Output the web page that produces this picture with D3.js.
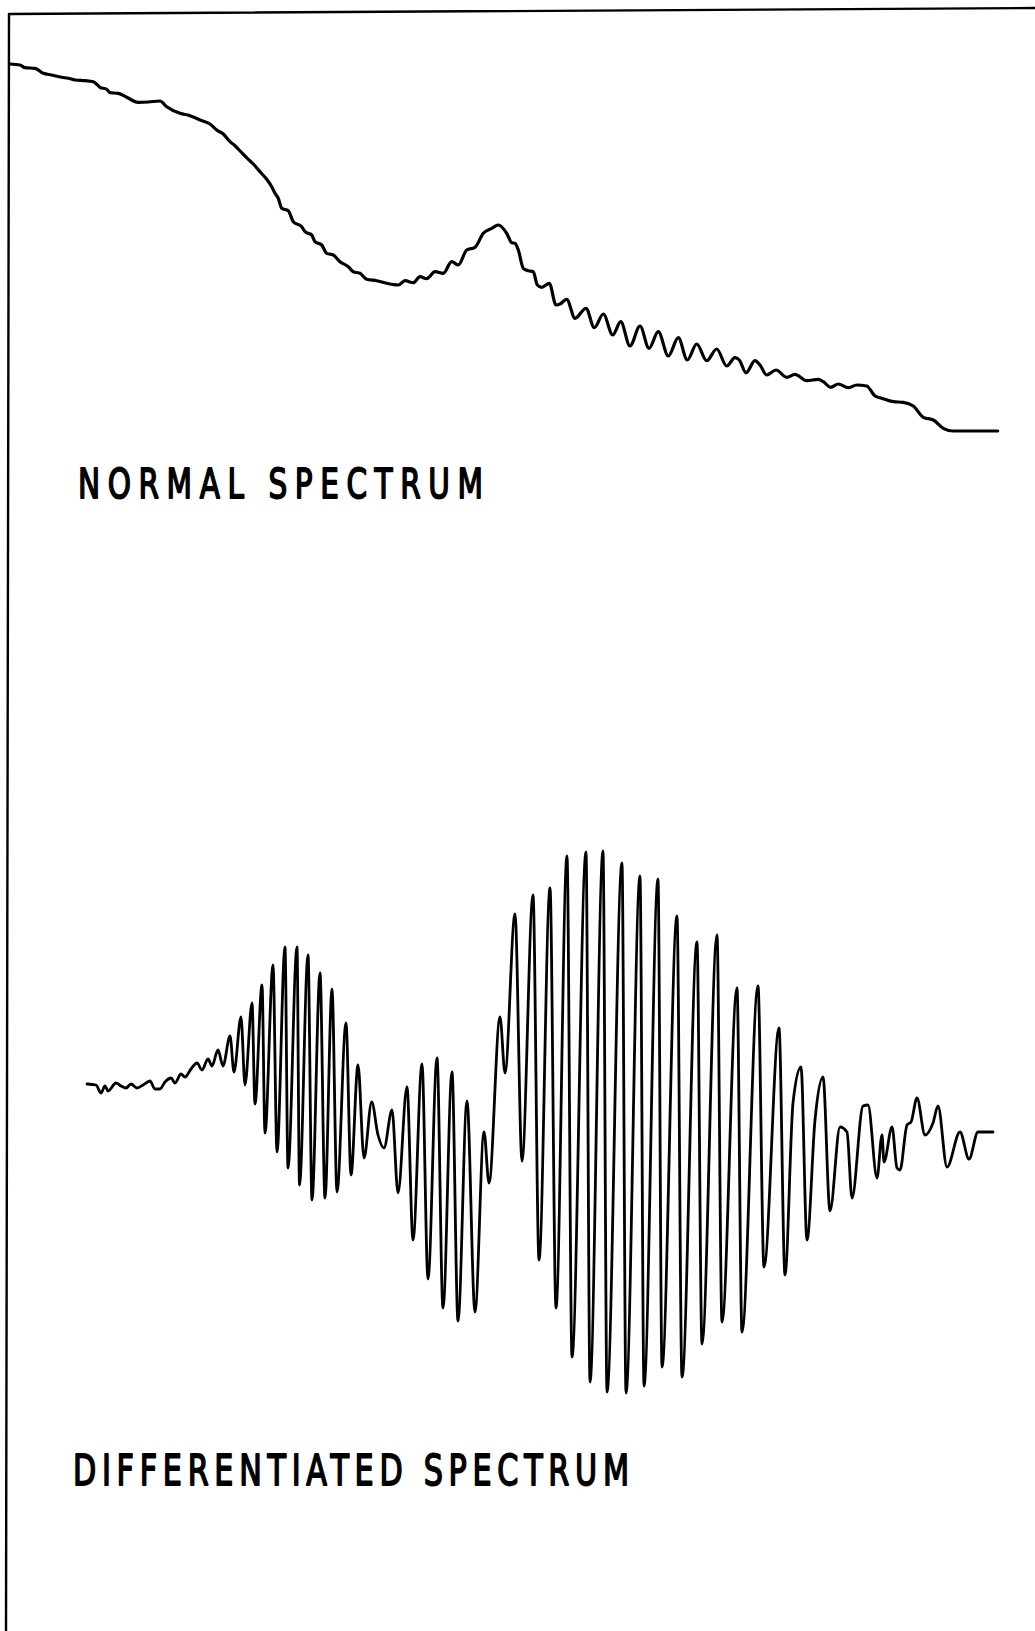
<!DOCTYPE html>
<html>
<head>
<meta charset="utf-8">
<script src="https://cdn.jsdelivr.net/npm/d3@7"></script>
<style>
  html, body { margin: 0; padding: 0; background: #fff; }
  svg { display: block; }
  .trace { fill: none; stroke: #000; stroke-linecap: round; stroke-linejoin: round; }
  .label { font-family: "DejaVu Sans", sans-serif; fill: #000; stroke: #000; stroke-width: 1.8px; stroke-linejoin: round; }
</style>
</head>
<body>
<script>
// Recorder traces: abscissa in chart divisions, ordinate in pen deflection units.

// Normal (zero-order) spectrum
const normalX = [1.0, 2.0, 2.5, 3.5, 4.33, 5.17, 6.17, 6.83, 7.5, 8.5, 9.33, 10.0, 10.67, 11.0, 11.83, 12.67, 13.83, 14.83, 16.0, 16.67,
  18.0, 19.0, 20.0, 21.0, 21.67, 22.33, 23.0, 23.5, 24.17, 24.83, 25.33, 26.0, 26.67, 27.17, 27.5, 27.83, 28.17, 28.83, 29.33, 30.17,
  30.5, 31.17, 31.5, 32.17, 32.67, 33.33, 34.0, 34.83, 35.33, 36.0, 36.67, 37.67, 38.67, 39.83, 40.5, 41.33, 42.0, 42.67, 43.5, 44.33,
  45.17, 45.83, 46.67, 47.5, 48.33, 49.17, 49.83, 50.67, 51.17, 51.5, 51.83, 52.33, 52.83, 53.33, 53.73, 54.17, 54.93, 55.6, 56.0, 56.67,
  57.5, 58.6, 59.43, 60.33, 61.27, 62.07, 63.0, 64.0, 64.9, 65.83, 66.83, 67.83, 68.73, 69.67, 70.67, 71.67, 72.67, 73.5, 73.93, 74.6,
  75.5, 76.0, 76.67, 77.6, 78.67, 79.5, 80.67, 81.83, 82.33, 83.07, 83.83, 84.83, 85.67, 86.67, 87.5, 88.17, 89.33, 90.33, 91.33, 92.33,
  93.33, 94.33, 95.33, 97.33, 99.77];
const normalY = [41.6, 41.5, 41.23, 41.17, 40.67, 40.5, 40.27, 40.17, 40.0, 39.93, 39.83, 39.27, 39.07, 38.73, 38.67, 38.27, 37.77, 37.8, 37.9, 37.33,
  36.67, 36.43, 36.0, 35.6, 35.0, 34.6, 33.83, 33.43, 32.73, 32.07, 31.6, 30.83, 30.07, 29.33, 28.67, 28.17, 27.17, 26.93, 25.83, 25.33,
  24.83, 24.5, 23.83, 23.5, 22.67, 22.5, 21.83, 21.33, 20.83, 20.67, 20.07, 19.93, 19.67, 19.5, 19.93, 19.73, 20.33, 20.13, 20.83, 20.67,
  21.83, 21.5, 23.0, 23.27, 24.67, 25.17, 25.5, 24.67, 23.73, 23.67, 23.0, 21.17, 20.93, 20.83, 19.5, 19.27, 19.67, 17.5, 17.6, 18.07,
  16.17, 17.17, 15.23, 16.6, 14.5, 15.83, 13.4, 15.4, 13.17, 14.83, 12.4, 14.23, 12.0, 13.6, 11.93, 13.1, 11.4, 12.23, 12.0, 10.73,
  11.93, 11.5, 10.5, 11.0, 10.27, 10.57, 9.93, 10.07, 9.83, 9.27, 9.6, 9.23, 9.5, 9.4, 8.4, 8.17, 7.83, 7.77, 7.4, 6.27,
  6.0, 5.17, 4.9, 4.9, 4.9];

// First-derivative spectrum
const diffX = [8.7, 9.6, 10.1, 10.5, 10.8, 11.6, 12.1, 12.6, 13.1, 13.7, 14.3, 15.0, 15.5, 16.0, 16.5, 17.1, 17.5, 18.1, 18.5, 19.1,
  19.7, 20.2, 20.8, 21.2, 21.8, 22.3, 23.0, 23.4, 24.1, 24.5, 25.2, 25.5, 26.2, 26.5, 27.3, 27.7, 28.5, 28.8, 29.7, 29.95,
  30.8, 31.2, 32.0, 32.5, 33.2, 33.7, 34.6, 35.1, 35.8, 36.4, 37.17, 37.8, 38.4, 39.2, 39.8, 40.7, 41.3, 42.2, 42.8, 43.7,
  44.3, 45.2, 45.8, 46.7, 47.5, 48.4, 48.9, 50.0, 50.5, 51.5, 52.2, 53.3, 53.9, 55.0, 55.6, 56.7, 57.2, 58.6, 59.0, 60.3,
  60.7, 62.2, 62.6, 64.0, 64.4, 65.8, 66.2, 67.7, 68.2, 69.7, 70.2, 71.7, 72.2, 73.7, 74.2, 75.8, 76.4, 77.9, 78.5, 79.3,
  80.1, 80.7, 81.5, 82.3, 83.0, 84.0, 84.7, 85.2, 86.3, 86.8, 87.7, 88.2, 88.4, 89.2, 89.7, 90.0, 90.7, 91.1, 91.7, 92.5,
  93.3, 93.8, 94.7, 96.0, 96.9, 97.8, 99.3];
const diffY = [3.6, 3.5, 2.7, 3.4, 2.9, 3.7, 3.4, 3.2, 3.6, 3.2, 3.5, 3.9, 3.1, 3.1, 3.8, 4.2, 3.7, 4.6, 4.3, 5.1,
  5.7, 5.0, 6.1, 5.4, 7.0, 5.4, 8.4, 4.8, 10.3, 3.5, 11.7, 1.6, 13.5, -1.3, 15.5, -3.2, 17.3, -4.8, 17.3, -6.5,
  16.5, -8.0, 14.7, -7.8, 13.1, -7.2, 9.7, -5.5, 5.5, -3.8, 1.8, -1.5, -2.8, 1.0, -7.3, 3.3, -12.0, 5.6, -15.9, 6.2,
  -18.8, 4.8, -20.1, 1.9, -19.2, -1.2, -6.3, 10.3, 4.7, 20.6, -4.1, 22.5, -14.0, 23.2, -18.8, 26.4, -23.7, 26.8, -26.2, 26.9,
  -27.2, 25.7, -27.3, 24.4, -26.6, 24.1, -24.7, 20.4, -25.7, 17.8, -22.4, 18.5, -20.2, 13.2, -21.2, 13.4, -14.7, 9.2, -15.5, 1.7,
  5.3, -12.0, 0.0, 4.3, -9.1, -0.7, -1.2, -7.8, 1.4, 1.5, -5.8, -1.5, -4.2, -0.7, -4.8, -5.0, -0.5, -0.2, 2.2, -1.5,
  -0.3, 1.4, -4.7, -1.2, -3.9, -1.2, -1.2];

const labels = ["NORMAL SPECTRUM", "DIFFERENTIATED SPECTRUM"];

const W = 1035, H = 1631;
const svg = d3.select("body").append("svg").attr("width", W).attr("height", H);

// Shared abscissa
const x = d3.scaleLinear().domain([0, 103.5]).range([0, W]);

// Ordinates for the two traces
const yNormal = d3.scaleLinear().domain([0, 48]).range([480, 0]);
const yDiff = d3.scaleLinear().domain([-30, 30]).range([1420, 820]);

// Chart frame: top and left edges of the recorder sheet
svg.append("path")
  .attr("class", "trace")
  .attr("stroke-width", 2.4)
  .attr("d", d3.line()([[W, 8], [9, 14], [6, H]]));

const normalPts = normalX.map((v, i) => [v, normalY[i]]);
const diffPts = diffX.map((v, i) => [v, diffY[i]]);

svg.append("path")
  .datum(normalPts)
  .attr("class", "trace")
  .attr("stroke-width", 3.2)
  .attr("d", d3.line().x(d => x(d[0])).y(d => yNormal(d[1])).curve(d3.curveMonotoneX));

svg.append("path")
  .datum(diffPts)
  .attr("class", "trace")
  .attr("stroke-width", 2.8)
  .attr("d", d3.line().x(d => x(d[0])).y(d => yDiff(d[1])).curve(d3.curveMonotoneX));

// Hand-lettered captions: narrow capitals, widely spaced
const squeeze = 0.72;
function caption(text, left, baseline, size, width) {
  svg.append("text")
    .attr("class", "label")
    .attr("transform", `translate(${left},${baseline}) scale(${squeeze},1)`)
    .attr("font-size", size)
    .attr("textLength", width / squeeze)
    .attr("lengthAdjust", "spacing")
    .text(text);
}
caption(labels[0], 78, 498, 41, 405);
caption(labels[1], 73, 1485, 42, 556);
</script>
</body>
</html>
